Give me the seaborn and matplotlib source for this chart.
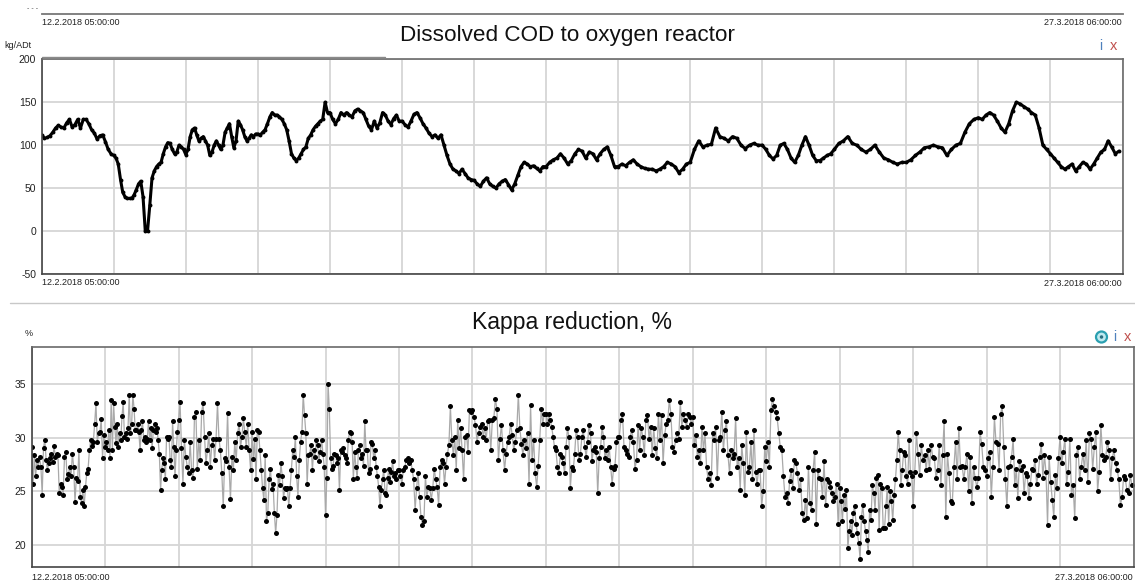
import numpy as np
import pandas as pd
import matplotlib
matplotlib.use("Agg")
import matplotlib.pyplot as plt
from matplotlib.lines import Line2D
from matplotlib.patches import Ellipse
import seaborn as sns

# ---------------- data ----------------
START = "2018-02-12 05:00:00"
END = "2018-03-27 06:00:00"
N_DIV = 15
start_label = "12.2.2018 05:00:00"
end_label = "27.3.2018 06:00:00"

cod_title = "Dissolved COD to oxygen reactor"
cod_unit = "kg/ADt"
cod_yticks = [-50, 0, 50, 100, 150, 200]
# values per grid interval (15 equal time intervals)
cod_div = [
    [112, 108, 109, 111, 115, 120, 123, 121, 120, 126, 130, 121, 124, 130, 120, 130, 130, 125, 118, 114, 107, 111, 112, 104, 95, 90],
    [88, 85, 78, 60, 45, 40, 38, 38, 38, 42, 48, 55, 58, 40, 0, 0, 30, 62, 70, 75, 78, 80, 90, 98, 103, 102, 95, 90, 92, 100, 98, 95],
    [89, 95, 110, 118, 120, 112, 105, 108, 110, 105, 100, 88, 92, 100, 105, 100, 95, 100, 115, 120, 125, 110, 97, 105, 128, 124, 118, 110, 105, 108, 112, 110, 113],
    [113, 112, 115, 118, 125, 133, 138, 135, 135, 133, 130, 125, 118, 105, 90, 85, 82, 85, 90, 95, 98, 108, 112, 118, 122, 125, 128, 130, 150, 138],
    [138, 130, 125, 130, 138, 135, 138, 135, 133, 140, 142, 140, 138, 130, 122, 118, 128, 120, 126, 138, 135, 128, 124, 131, 135, 128],
    [128, 124, 121, 128, 136, 138, 132, 125, 120, 114, 110, 112, 108, 112, 100, 88, 78, 72, 70, 67, 72, 67, 62, 60],
    [59, 55, 52, 58, 62, 55, 52, 50, 55, 58, 60, 54, 48, 55, 65, 75, 80, 78, 75, 76, 73, 70, 75],
    [75, 80, 83, 85, 90, 85, 78, 82, 90, 95, 93, 85, 92, 90, 83, 90, 95, 98, 88, 75],
    [75, 78, 76, 80, 83, 78, 75, 73, 72, 72, 70, 72, 75, 80, 78, 75, 68, 72, 78],
    [80, 95, 105, 98, 100, 101, 120, 110, 108, 105, 110, 108, 100, 96, 100, 102, 100],
    [100, 95, 88, 84, 88, 100, 102, 95, 85, 80, 88, 100, 110, 100, 88, 82, 82, 85, 88, 90],
    [95, 102, 105, 110, 102, 100, 95, 92, 95, 100, 92, 85, 83, 80, 78, 80],
    [80, 83, 88, 92, 97, 98, 100, 98, 97, 88, 95, 100, 102, 115, 125, 130],
    [132, 130, 135, 138, 135, 128, 120, 115, 125, 140, 150, 148, 145, 142, 138, 135, 120, 100, 95],
    [90, 85, 80, 75, 72, 75, 78, 70, 75, 80, 78, 72, 78, 85, 92, 95, 105, 98, 90, 93],
]

kappa_title = "Kappa reduction, %"
kappa_unit = "%"
kappa_yticks = [20, 25, 30, 35]
kappa_div = [
    [29.1, 25.7, 28.4, 26.4, 27.9, 27.3, 28.2, 27.3, 24.7, 29.0, 29.8, 27.9, 27.0, 27.6, 28.1, 28.5, 27.7, 29.2, 28.2, 28.5, 28.4, 24.8, 25.7, 25.4, 24.7, 28.2, 28.7, 26.1, 26.6, 27.3, 26.4, 28.5, 27.3, 24.0, 26.2, 26.0, 28.8, 24.5, 23.9, 25.1, 23.6, 25.4, 26.7, 27.1, 28.8, 29.8, 29.2, 29.6, 31.3, 33.2, 29.6, 30.4, 30.5, 31.7, 28.1, 30.2],
    [29.1, 29.6, 28.8, 30.7, 28.1, 33.5, 28.8, 33.2, 31.0, 29.5, 31.3, 29.1, 30.4, 29.8, 32.0, 33.3, 30.1, 30.4, 29.9, 30.9, 34.0, 30.4, 31.3, 34.0, 32.7, 30.7, 30.7, 31.3, 30.5, 28.8, 30.7, 31.5, 29.8, 30.1, 29.6, 29.9, 31.5, 29.8, 30.9, 29.0, 30.7, 31.3, 30.5, 30.9, 29.8, 28.5, 25.1, 27.0, 28.1, 27.6, 26.1, 30.1, 29.9, 30.1, 27.9, 27.3, 31.5, 29.1, 26.4, 28.8, 30.5],
    [31.6, 33.3, 29.0, 25.7, 29.8, 28.2, 27.3, 26.7, 29.6, 27.0, 26.2, 31.9, 32.4, 27.1, 29.8, 27.9, 32.4, 33.2, 30.1, 27.6, 28.8, 30.4, 27.3, 29.3, 29.9, 27.9, 29.9, 33.2, 29.9, 28.8, 26.7, 23.6, 28.1, 27.8, 32.3, 27.3, 24.3, 28.2, 27.0, 29.6, 27.9, 30.4, 31.3, 29.1, 30.1, 31.8, 30.5, 29.1, 31.3, 28.8, 27.0],
    [30.5, 28.0, 29.9, 26.1, 30.7, 30.5, 28.8, 27.0, 25.3, 24.2, 28.4, 22.2, 23.0, 26.1, 27.1, 25.2, 25.7, 23.0, 21.1, 22.8, 26.5, 25.6, 27.6, 26.4, 24.4, 25.3, 25.2, 25.3, 23.6, 25.3, 27.0, 28.8, 28.2, 30.1, 26.4, 24.5, 27.9, 29.6, 30.5, 34.0, 32.1, 30.4, 25.7, 28.4, 28.5, 29.3, 27.0, 28.8, 28.2, 29.8, 29.3, 27.8, 28.7, 29.8, 28.5, 27.3],
    [22.8, 26.2, 35.0, 32.7, 28.1, 27.1, 27.4, 28.5, 28.4, 27.6, 28.1, 25.1, 28.8, 28.7, 29.0, 28.4, 28.1, 27.6, 29.8, 30.5, 30.4, 29.6, 26.1, 28.7, 27.3, 26.2, 28.8, 29.3, 28.1, 28.5, 27.4, 31.5, 28.8, 28.8, 26.7, 27.1, 29.6, 29.4, 28.1, 28.8, 27.3, 26.4, 25.4, 23.6, 25.1, 26.1, 27.0, 24.8, 24.7, 26.2, 27.1, 25.9, 26.8, 27.8, 26.4, 26.7, 26.1, 27.0],
    [27.0, 26.4, 25.7, 27.0, 27.3, 27.9, 28.1, 27.6, 27.9, 27.0, 26.1, 23.3, 25.3, 26.7, 24.5, 22.6, 21.9, 22.2, 26.4, 24.5, 25.4, 25.3, 24.2, 25.3, 27.1, 26.1, 25.4, 23.7, 27.3, 27.9, 27.6, 25.7, 27.3, 28.5, 29.3, 32.9, 29.8, 28.4, 30.1, 27.0, 31.6, 29.0, 30.9, 28.8, 26.1, 30.1, 30.2, 28.7, 32.6, 32.4],
    [32.6, 31.9, 31.2, 29.6, 30.4, 31.0, 31.3, 30.1, 30.9, 29.8, 31.5, 31.6, 28.8, 31.6, 31.8, 33.6, 32.7, 27.9, 29.9, 31.2, 28.8, 27.0, 28.5, 29.6, 30.1, 31.3, 30.2, 28.8, 29.6, 30.7, 34.0, 30.9, 29.4, 28.4, 29.8, 29.0, 30.4, 25.7, 33.0, 27.9, 29.8, 26.7, 25.4, 27.4, 29.8, 32.7, 31.3, 32.2],
    [32.2, 31.3, 32.2, 31.6, 31.0, 30.1, 29.1, 28.8, 27.3, 26.7, 28.5, 28.2, 27.6, 26.7, 29.1, 30.9, 30.1, 25.3, 27.3, 27.0, 28.5, 30.7, 30.1, 27.9, 28.5, 30.1, 30.7, 29.1, 28.2, 29.6, 31.2, 30.4, 27.8, 28.8, 29.1, 28.7, 24.8, 28.1, 29.1, 31.0, 30.1, 28.1, 28.8, 27.9, 29.1, 27.3, 25.7, 27.1, 27.4, 29.6, 30.1],
    [30.1, 31.6, 32.2, 29.1, 28.8, 28.5, 28.2, 30.1, 30.7, 29.6, 27.1, 27.9, 31.2, 28.8, 30.9, 30.1, 28.4, 31.6, 32.1, 29.9, 31.0, 28.4, 30.9, 29.0, 28.1, 32.2, 29.8, 32.1, 27.6, 30.2, 31.3, 31.6, 33.5, 32.2, 29.1, 28.7, 29.8, 30.4, 29.9, 33.3, 31.0, 32.2, 31.6, 31.0, 32.2, 31.9, 31.3],
    [31.9, 29.3, 30.2, 28.2, 28.8, 27.6, 31.0, 28.8, 30.4, 27.3, 26.1, 26.7, 25.6, 30.4, 29.8, 31.0, 26.2, 29.8, 30.1, 32.4, 28.8, 30.7, 31.5, 28.4, 26.7, 28.8, 28.1, 28.5, 31.8, 27.3, 28.1, 25.1, 29.3, 27.6, 24.7, 30.5, 26.8, 27.3, 29.6, 26.1, 30.7, 26.8, 25.7, 27.0, 27.0, 23.6, 25.0, 29.1],
    [27.8, 29.6, 27.3, 32.6, 33.6, 32.9, 32.4, 31.8, 30.4, 29.1, 28.8, 26.4, 24.5, 24.8, 23.9, 26.0, 27.0, 25.3, 27.9, 27.6, 26.7, 25.1, 26.1, 23.0, 22.3, 24.2, 22.5, 27.3, 23.9, 23.3, 27.0, 28.7, 22.0, 27.0, 26.2, 26.1, 24.5, 27.8, 23.7, 26.1, 25.9, 25.4, 24.8, 24.1, 24.5, 25.7, 22.0],
    [25.3, 24.1, 22.2, 24.7, 23.4, 25.1, 19.7, 21.3, 22.2, 20.9, 23.0, 23.6, 22.0, 21.1, 20.2, 18.7, 22.6, 23.7, 22.2, 21.3, 20.5, 19.4, 23.3, 22.3, 25.6, 24.8, 23.3, 26.2, 26.5, 21.4, 25.7, 25.3, 21.6, 21.6, 23.6, 25.4, 22.0, 25.0, 24.1, 22.3, 24.7, 26.1, 27.9, 30.5, 28.8, 25.6, 27.0, 28.7, 28.4, 26.4, 25.7, 29.8, 26.8, 26.4],
    [23.6, 26.8, 30.4, 28.5, 26.5, 29.3, 27.9, 28.4, 27.0, 28.8, 27.1, 29.3, 28.2, 28.1, 26.2, 27.0, 29.3, 25.6, 28.4, 31.5, 22.6, 28.5, 26.7, 24.1, 23.9, 27.3, 29.6, 26.1, 30.9, 27.3, 27.4, 26.1, 27.3, 28.5, 25.0, 28.2, 23.9, 27.3, 26.2, 25.4, 26.2, 30.5, 29.4, 27.3, 27.0],
    [26.4, 28.1, 28.7, 24.5, 27.3, 31.9, 29.6, 29.4, 27.0, 32.2, 32.9, 29.1, 26.1, 23.6, 27.3, 27.4, 28.2, 29.9, 25.6, 27.1, 24.4, 27.8, 27.0, 27.4, 24.8, 26.7, 26.4, 24.4, 25.7, 27.1, 27.0, 27.9, 25.7, 26.5, 28.2, 29.4, 26.2, 28.4, 26.8, 21.9, 28.2, 25.9, 24.2, 22.6, 26.5, 25.3, 28.1],
    [30.1, 27.6, 28.7, 29.9, 25.7, 26.8, 29.9, 24.7, 25.6, 22.5, 28.4, 29.1, 26.1, 27.3, 28.5, 27.0, 29.8, 25.9, 30.4, 29.9, 27.1, 29.1, 30.5, 25.0, 26.8, 31.2, 28.4, 27.9, 28.2, 29.6, 28.8, 26.1, 28.1, 28.8, 27.6, 27.0, 26.1, 23.7, 24.5, 26.4, 26.1, 25.1, 24.8, 26.5, 25.6],
]

# ---------------- helpers ----------------
T0 = pd.Timestamp(START)
T1 = pd.Timestamp(END)
SPAN = T1 - T0


def to_frame(divs):
    rows = []
    for k, vals in enumerate(divs):
        n = len(vals)
        for i, v in enumerate(vals):
            rows.append((T0 + SPAN * ((k + i / n) / N_DIV), v))
    return pd.DataFrame(rows, columns=["time", "value"])


cod_df = to_frame(cod_div)
kappa_df = to_frame(kappa_div)
grid_times = pd.date_range(T0, T1, periods=N_DIV + 1)

sns.set_theme(style="white")
plt.rcParams["font.family"] = ["Liberation Sans", "DejaVu Sans"]
NARROW = ["Liberation Sans Narrow", "Liberation Sans", "DejaVu Sans"]

W, H = 1135, 584
fig = plt.figure(figsize=(W / 100, H / 100), dpi=100)
fig.patch.set_facecolor("white")


def px_axes(x0, y0, x1, y1):
    return fig.add_axes([x0 / W, 1 - y1 / H, (x1 - x0) / W, (y1 - y0) / H])


GRID = "#d6d6d6"
SPINE = "#6a6a6a"


def style_axes(ax, yticks, ylim):
    ax.set_xlim(T0, T1)
    ax.set_ylim(*ylim)
    ax.set_xticks(grid_times)
    ax.set_xticklabels([])
    ax.set_yticks(yticks)
    ax.set_yticklabels([str(t) for t in yticks], fontfamily=NARROW)
    ax.tick_params(axis="x", length=0)
    ax.tick_params(axis="y", length=0, labelsize=7.5, pad=4, colors="#222222")
    ax.grid(True, color=GRID, lw=1.3)
    ax.set_axisbelow(True)
    for s in ax.spines.values():
        s.set_color(SPINE)
        s.set_linewidth(1.2)
    ax.spines["left"].set_color("#444444")
    ax.spines["bottom"].set_color("#444444")
    ax.set_xlabel("")
    ax.set_ylabel("")
    if ax.get_legend() is not None:
        ax.get_legend().remove()


# ---------------- top strip (remnant of a chart above) ----------------
strip = px_axes(41.7, 3, 1123, 13.5)
strip.set_xlim(T0, T1)
strip.set_xticks(grid_times)
strip.set_xticklabels([])
strip.set_yticks([])
strip.tick_params(axis="x", direction="in", length=3, color="#777777", width=1)
for name, s in strip.spines.items():
    s.set_visible(name == "bottom")
strip.spines["bottom"].set_color("#777777")
strip.spines["bottom"].set_linewidth(1.3)
strip.patch.set_alpha(0)
fig.text(41.7 / W, 1 - 22.5 / H, start_label, fontsize=6.5, family=NARROW, ha="left", va="center", color="#222222")
fig.text(1122 / W, 1 - 22.5 / H, end_label, fontsize=6.5, family=NARROW, ha="right", va="center", color="#222222")
fig.text(27 / W, 1 - 9 / H, "- - -", fontsize=5, family=NARROW, ha="left", va="center", color="#555555")

# ---------------- COD panel ----------------
ax1 = px_axes(41.7, 59.3, 1122.5, 274)
sns.lineplot(data=cod_df, x="time", y="value", ax=ax1, color="black", lw=2.2,
             marker="o", markersize=2.8, markeredgewidth=0, estimator=None, sort=False)
style_axes(ax1, cod_yticks, (-50, 200))
fig.add_artist(Line2D([42 / W, 385 / W], [1 - 57 / H] * 2, color="#8a8a8a", lw=1.0))
fig.text(567 / W, 1 - 36 / H, cod_title, fontsize=16.2, ha="center", va="center", color="#111111")
fig.text(4 / W, 1 - 45 / H, cod_unit, fontsize=6.5, family=NARROW, ha="left", va="center", color="#222222")
fig.text(41.7 / W, 1 - 282.5 / H, start_label, fontsize=6.5, family=NARROW, ha="left", va="center", color="#222222")
fig.text(1122 / W, 1 - 283 / H, end_label, fontsize=6.5, family=NARROW, ha="right", va="center", color="#222222")
fig.text(1101 / W, 1 - 46 / H, "i", fontsize=10, ha="center", va="center", color="#4f81bd")
fig.text(1114 / W, 1 - 46 / H, "x", fontsize=10.5, ha="center", va="center", color="#c0504d")

# separator line between panels
fig.add_artist(Line2D([10 / W, 1.0], [1 - 303.3 / H] * 2, color="#c8c8c8", lw=1.0))

# ---------------- Kappa panel ----------------
ax2 = px_axes(31.7, 347.3, 1133.5, 567.3)
sns.lineplot(data=kappa_df, x="time", y="value", ax=ax2, color="#a9a9a9", lw=0.9,
             marker="o", markersize=3.6, markerfacecolor="black", markeredgecolor="black",
             markeredgewidth=0, estimator=None, sort=False)
style_axes(ax2, kappa_yticks, (17.93, 38.4))
fig.text(572 / W, 1 - 322 / H, kappa_title, fontsize=16.5, ha="center", va="center", color="#111111")
fig.text(25 / W, 1 - 333 / H, kappa_unit, fontsize=6.5, family=NARROW, ha="left", va="center", color="#222222")
fig.text(31.7 / W, 1 - 578 / H, start_label, fontsize=6.5, family=NARROW, ha="left", va="center", color="#222222")
fig.text(1133 / W, 1 - 578 / H, end_label, fontsize=6.5, family=NARROW, ha="right", va="center", color="#222222")
fig.add_artist(Ellipse((1101.5 / W, 1 - 337 / H), 11 / W, 11 / H, transform=fig.transFigure,
                       facecolor="#bfeaf0", edgecolor="#2a9fb0", lw=1.6))
fig.add_artist(Ellipse((1101.5 / W, 1 - 337 / H), 3.5 / W, 3.5 / H, transform=fig.transFigure,
                       facecolor="#2a6f80", edgecolor="none"))
fig.text(1115 / W, 1 - 337 / H, "i", fontsize=10, ha="center", va="center", color="#4f81bd")
fig.text(1128 / W, 1 - 337 / H, "x", fontsize=10.5, ha="center", va="center", color="#c0504d")

fig.savefig("out.png", dpi=100, facecolor="white")
